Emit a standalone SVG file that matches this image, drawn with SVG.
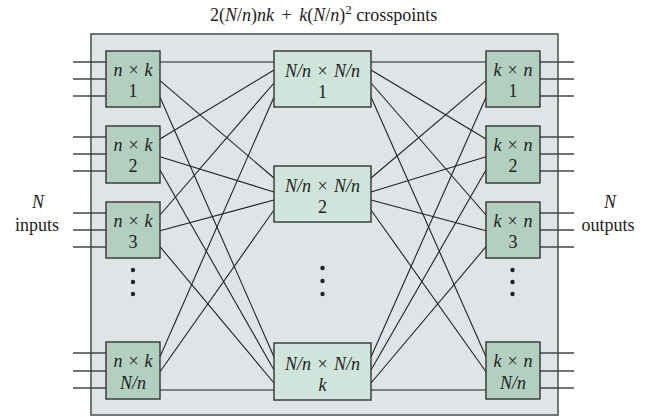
<svg xmlns="http://www.w3.org/2000/svg" width="646" height="417" viewBox="0 0 646 417">
<style>
text{font-family:"Liberation Serif","Times New Roman",serif;font-size:18px;fill:#222}
.c{text-anchor:middle}
.i{font-style:italic}
.outer{fill:#dfe4e7;stroke:#555;stroke-width:1.6}
.sb{fill:#b2cfc0;stroke:#333;stroke-width:1.4}
.mb{fill:#cfe4da;stroke:#333;stroke-width:1.4}
.io line{stroke:#444;stroke-width:1.4}
.conn line{stroke:#222;stroke-width:1.1}
.dot{fill:#222}
</style>
<rect class="outer" x="91" y="34" width="467" height="381"/>
<text class="c" x="323.7" y="21" font-size="19">2(<tspan class="i">N</tspan>/<tspan class="i">n</tspan>)<tspan class="i">nk</tspan><tspan dx="3"> + </tspan><tspan class="i" dx="3">k</tspan>(<tspan class="i">N</tspan>/<tspan class="i">n</tspan>)<tspan dy="-7" font-size="13">2</tspan><tspan dy="7"> crosspoints</tspan></text>
<g id="label-inputs"><text class="c i" x="38" y="208">N</text><text class="c" x="37" y="231">inputs</text></g>
<g id="label-outputs"><text class="c i" x="610" y="208">N</text><text class="c" x="608" y="231">outputs</text></g>
<g class="io" id="io-lines">
<line x1="73" y1="62" x2="106" y2="62"/><line x1="73" y1="79" x2="106" y2="79"/><line x1="73" y1="96" x2="106" y2="96"/>
<line x1="73" y1="137" x2="106" y2="137"/><line x1="73" y1="154" x2="106" y2="154"/><line x1="73" y1="171" x2="106" y2="171"/>
<line x1="73" y1="213" x2="106" y2="213"/><line x1="73" y1="230" x2="106" y2="230"/><line x1="73" y1="247" x2="106" y2="247"/>
<line x1="73" y1="353" x2="106" y2="353"/><line x1="73" y1="371" x2="106" y2="371"/><line x1="73" y1="388" x2="106" y2="388"/>
<line x1="540" y1="62" x2="574" y2="62"/><line x1="540" y1="79" x2="574" y2="79"/><line x1="540" y1="96" x2="574" y2="96"/>
<line x1="540" y1="137" x2="574" y2="137"/><line x1="540" y1="154" x2="574" y2="154"/><line x1="540" y1="171" x2="574" y2="171"/>
<line x1="540" y1="213" x2="574" y2="213"/><line x1="540" y1="230" x2="574" y2="230"/><line x1="540" y1="247" x2="574" y2="247"/>
<line x1="540" y1="353" x2="574" y2="353"/><line x1="540" y1="371" x2="574" y2="371"/><line x1="540" y1="388" x2="574" y2="388"/>
</g>
<g class="conn" id="connectors">
<line x1="160" y1="62" x2="274" y2="62"/>
<line x1="160" y1="80.7" x2="274" y2="178"/>
<line x1="160" y1="97.3" x2="274" y2="357"/>
<line x1="160" y1="139" x2="274" y2="70"/>
<line x1="160" y1="156.7" x2="274" y2="192"/>
<line x1="160" y1="170" x2="274" y2="370"/>
<line x1="160" y1="215" x2="274" y2="83"/>
<line x1="160" y1="230.7" x2="274" y2="200"/>
<line x1="160" y1="246.7" x2="274" y2="383"/>
<line x1="160" y1="356.7" x2="274" y2="97"/>
<line x1="160" y1="371.7" x2="274" y2="210"/>
<line x1="160" y1="390" x2="274" y2="390"/>
<line x1="371" y1="62" x2="486" y2="62"/>
<line x1="371" y1="70" x2="486" y2="139"/>
<line x1="371" y1="83" x2="486" y2="215"/>
<line x1="371" y1="97" x2="486" y2="356.7"/>
<line x1="371" y1="178" x2="486" y2="80.7"/>
<line x1="371" y1="192" x2="486" y2="156.7"/>
<line x1="371" y1="200" x2="486" y2="230.7"/>
<line x1="371" y1="210" x2="486" y2="371.7"/>
<line x1="371" y1="357" x2="486" y2="97.3"/>
<line x1="371" y1="370" x2="486" y2="170"/>
<line x1="371" y1="383" x2="486" y2="246.7"/>
<line x1="371" y1="390" x2="486" y2="390"/>
</g>
<g id="in1"><rect class="sb" x="106" y="51" width="54" height="56"/><text class="c" x="133" y="76"><tspan class="i">n</tspan><tspan dx="1.5"> × </tspan><tspan class="i" dx="1.5">k</tspan></text><text class="c" x="133" y="97">1</text></g>
<g id="in2"><rect class="sb" x="106" y="126" width="54" height="57"/><text class="c" x="133" y="151"><tspan class="i">n</tspan><tspan dx="1.5"> × </tspan><tspan class="i" dx="1.5">k</tspan></text><text class="c" x="133" y="172">2</text></g>
<g id="in3"><rect class="sb" x="106" y="202" width="54" height="56"/><text class="c" x="133" y="227"><tspan class="i">n</tspan><tspan dx="1.5"> × </tspan><tspan class="i" dx="1.5">k</tspan></text><text class="c" x="133" y="248">3</text></g>
<g id="in4"><rect class="sb" x="106" y="342" width="54" height="57"/><text class="c" x="133" y="367"><tspan class="i">n</tspan><tspan dx="1.5"> × </tspan><tspan class="i" dx="1.5">k</tspan></text><text class="c i" x="133" y="389">N/n</text></g>
<g id="mid1"><rect class="mb" x="274" y="51" width="97" height="56"/><text class="c" x="322.5" y="77"><tspan class="i">N/n</tspan><tspan dx="2"> × </tspan><tspan class="i" dx="2">N/n</tspan></text><text class="c" x="322.5" y="98">1</text></g>
<g id="mid2"><rect class="mb" x="274" y="166" width="97" height="56"/><text class="c" x="322.5" y="192"><tspan class="i">N/n</tspan><tspan dx="2"> × </tspan><tspan class="i" dx="2">N/n</tspan></text><text class="c" x="322.5" y="213">2</text></g>
<g id="midk"><rect class="mb" x="274" y="343" width="97" height="57"/><text class="c" x="322.5" y="370"><tspan class="i">N/n</tspan><tspan dx="2"> × </tspan><tspan class="i" dx="2">N/n</tspan></text><text class="c i" x="322.5" y="391">k</text></g>
<g id="out1"><rect class="sb" x="486" y="51" width="54" height="56"/><text class="c" x="513" y="76"><tspan class="i">k</tspan><tspan dx="1.5"> × </tspan><tspan class="i" dx="1.5">n</tspan></text><text class="c" x="513" y="97">1</text></g>
<g id="out2"><rect class="sb" x="486" y="126" width="54" height="57"/><text class="c" x="513" y="151"><tspan class="i">k</tspan><tspan dx="1.5"> × </tspan><tspan class="i" dx="1.5">n</tspan></text><text class="c" x="513" y="172">2</text></g>
<g id="out3"><rect class="sb" x="486" y="202" width="54" height="56"/><text class="c" x="513" y="227"><tspan class="i">k</tspan><tspan dx="1.5"> × </tspan><tspan class="i" dx="1.5">n</tspan></text><text class="c" x="513" y="248">3</text></g>
<g id="out4"><rect class="sb" x="486" y="342" width="54" height="57"/><text class="c" x="513" y="367"><tspan class="i">k</tspan><tspan dx="1.5"> × </tspan><tspan class="i" dx="1.5">n</tspan></text><text class="c i" x="513" y="389">N/n</text></g>
<g id="dots">
<circle class="dot" cx="133" cy="270" r="2.2"/><circle class="dot" cx="133" cy="282" r="2.2"/><circle class="dot" cx="133" cy="294" r="2.2"/>
<circle class="dot" cx="322.5" cy="268" r="2.2"/><circle class="dot" cx="322.5" cy="281" r="2.2"/><circle class="dot" cx="322.5" cy="294" r="2.2"/>
<circle class="dot" cx="512.5" cy="270" r="2.2"/><circle class="dot" cx="512.5" cy="282" r="2.2"/><circle class="dot" cx="512.5" cy="294" r="2.2"/>
</g>
</svg>
